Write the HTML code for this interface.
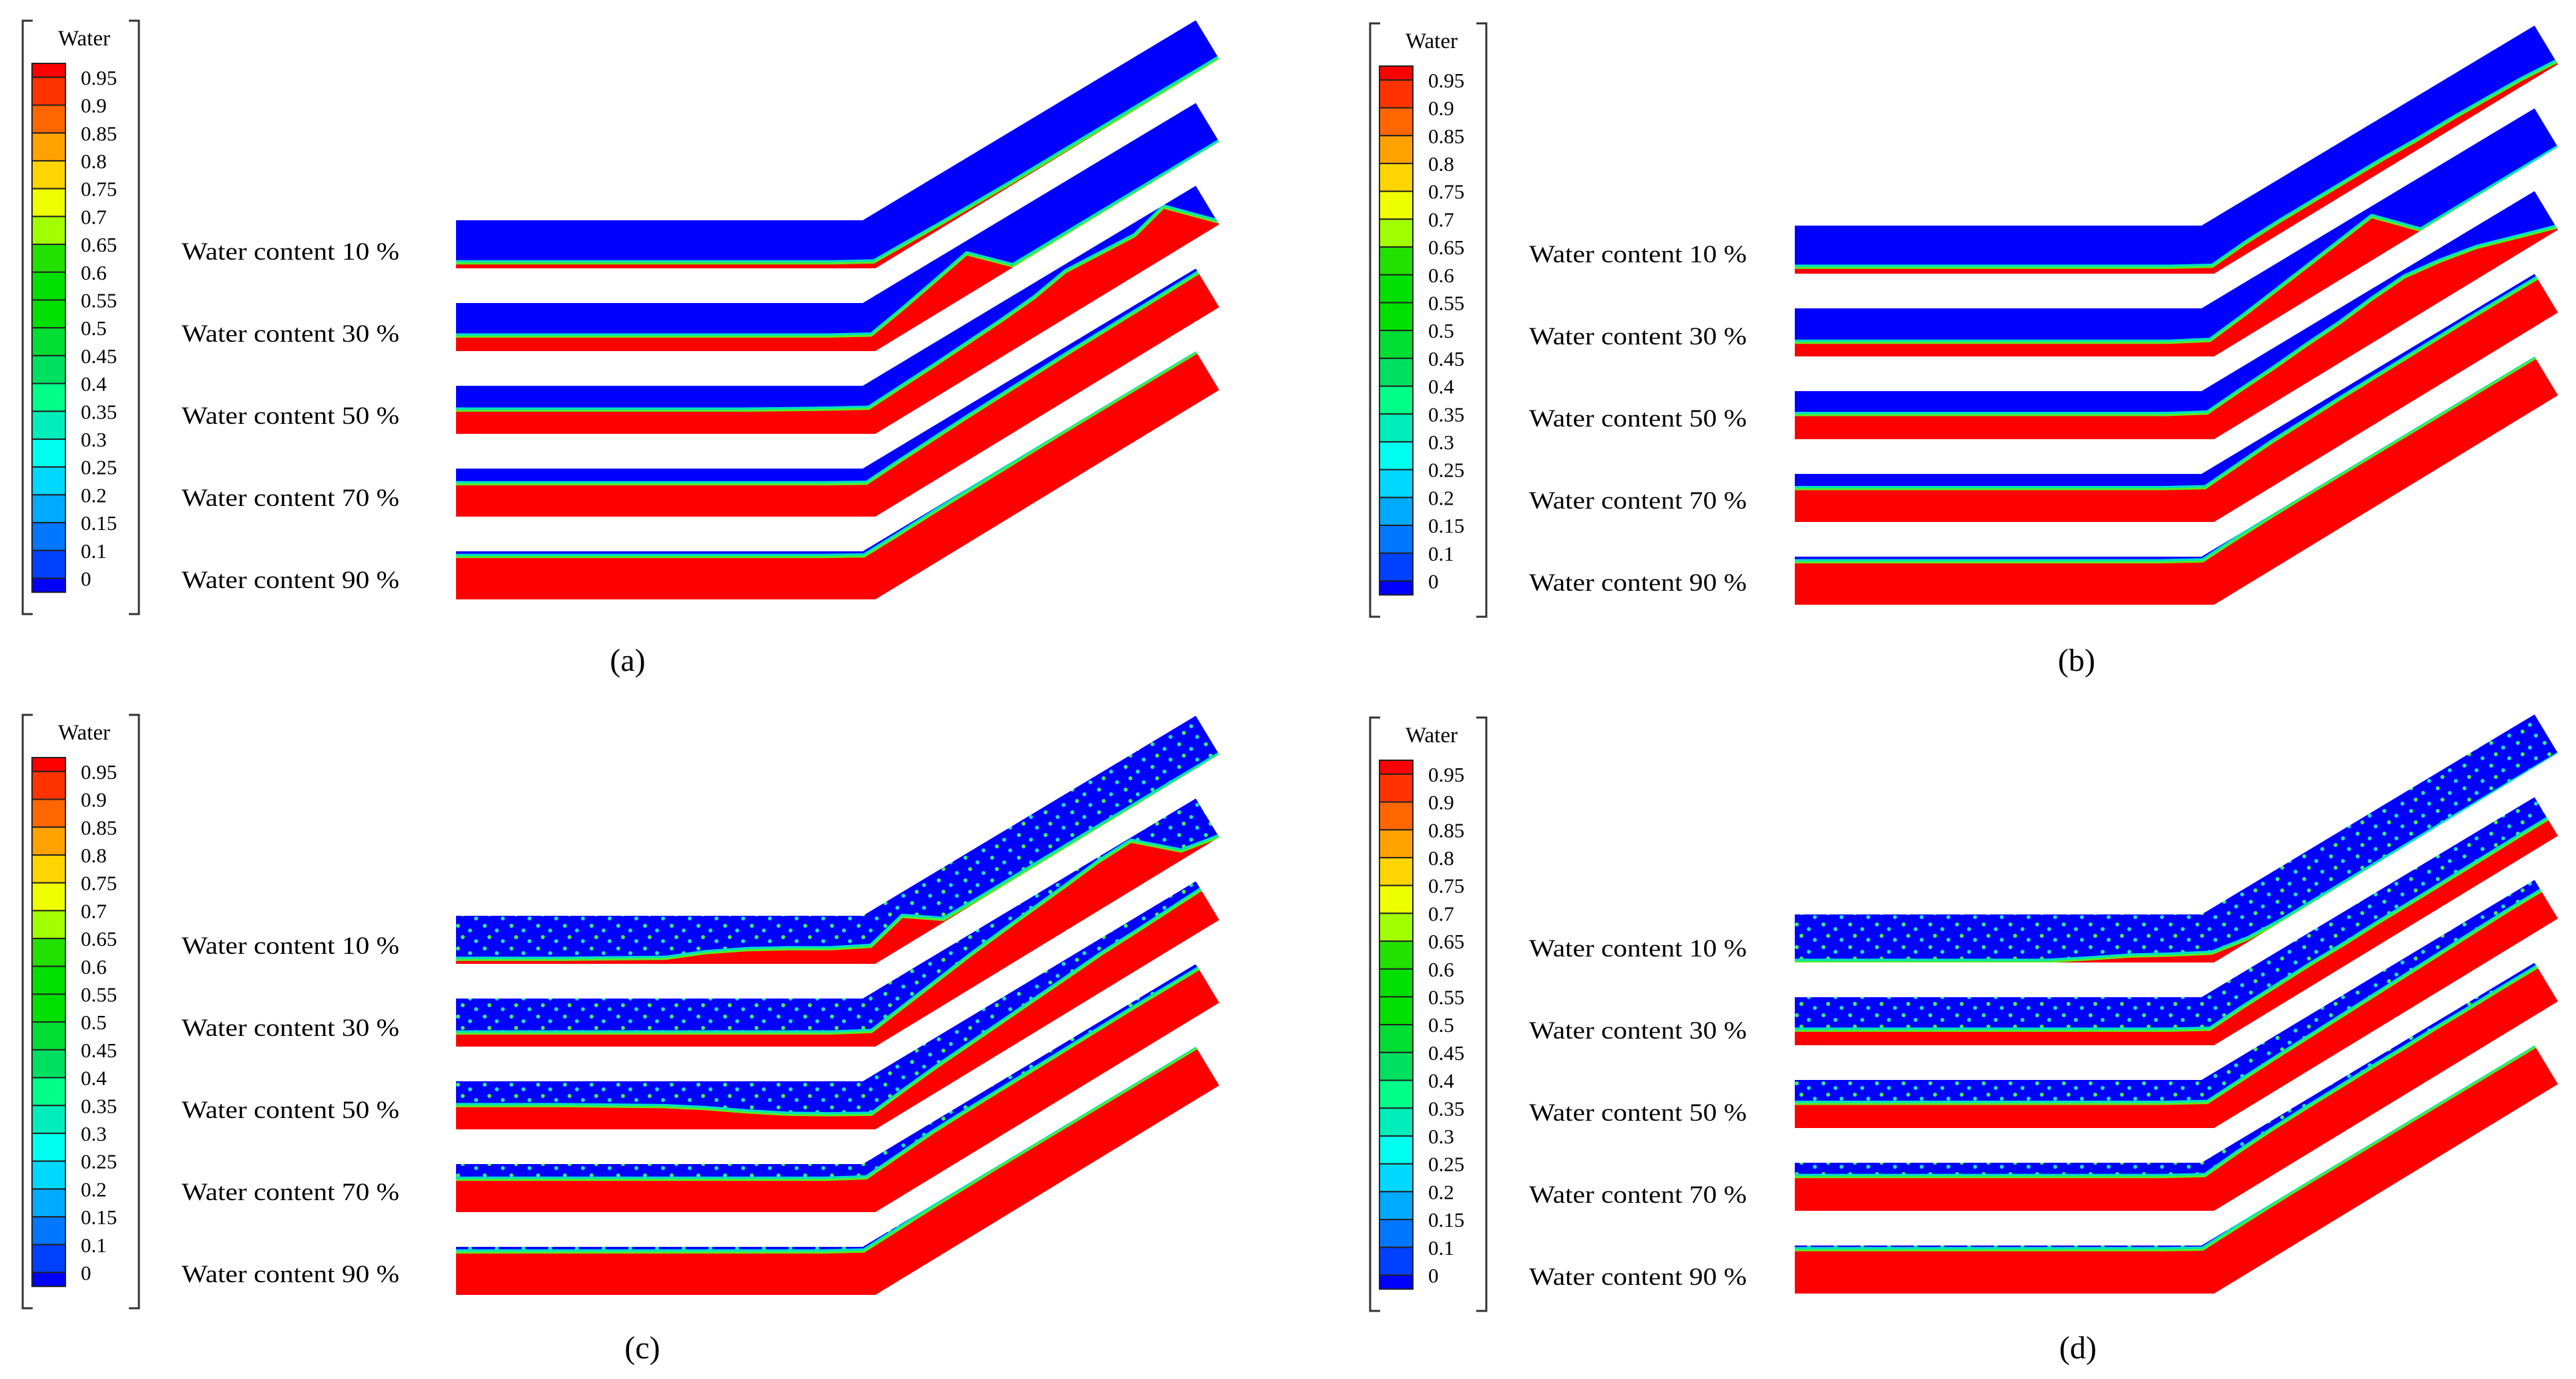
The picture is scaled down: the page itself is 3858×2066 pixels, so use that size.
<!DOCTYPE html>
<html><head><meta charset="utf-8"><title>Water content contours</title>
<style>
html,body{margin:0;padding:0;background:#fff;}
svg{display:block;}
text{font-family:"Liberation Serif","DejaVu Serif",serif;fill:#000;}
</style></head>
<body>
<svg id="fig" xmlns="http://www.w3.org/2000/svg" width="3858" height="2066" viewBox="0 0 3858 2066">
<defs>
<pattern id="drops" x="0" y="0" width="40" height="34" patternUnits="userSpaceOnUse">
<rect width="40" height="34" fill="#0000ff"/>
<circle cx="6" cy="5" r="3" fill="#33ee88"/>
<circle cx="24" cy="12" r="3" fill="#22ddcc"/>
<circle cx="13" cy="22" r="3" fill="#44ee55"/>
<circle cx="33" cy="28" r="3" fill="#22ddcc"/>
</pattern>
</defs>
<g id="root"></g>
</svg>
<script>
// Shared axial stations (0-1 horizontal section, 1-2 inclined section)
const stations = [0,.25,.5,.6,.7,.8,.9,1,1.1,1.2,1.3,1.4,1.5,1.6,1.7,1.8,1.9,2];
const contentLabels = ["Water content 10 %","Water content 30 %","Water content 50 %","Water content 70 %","Water content 90 %"];
const panelLetters = ["(a)","(b)","(c)","(d)"];
const cbarLabels = ["0.95","0.9","0.85","0.8","0.75","0.7","0.65","0.6","0.55","0.5","0.45","0.4","0.35","0.3","0.25","0.2","0.15","0.1","0"];
const cbarColors = ["#ff0000","#ff3300","#ff6600","#ffa200","#ffd500","#eeff00","#a2ff00","#22e000","#00e000","#00e000","#00dd33","#00e060","#00ff88","#00eebb","#00ffee","#00d8ff","#00aaff","#0077ff","#0040ff","#0000ff"];
// Water fraction profiles (fraction of pipe depth filled by water), per panel, per pipe
const profA10 = [.1,.1,.1,.1,.1,.1,.1,.12,.1,.08,.07,.06,.06,.06,.06,.06,.06,.06];
const profA30 = [.3,.3,.3,.3,.3,.3,.3,.32,.45,.6,.75,.04,.04,.04,.04,.04,.04,.04];
const profA50 = [.48,.48,.48,.48,.48,.49,.5,.52,.55,.58,.62,.66,.72,.85,.8,.75,.95,.1];
const profA70 = [.67,.67,.67,.67,.67,.67,.67,.68,.72,.75,.78,.8,.82,.84,.85,.86,.87,.88];
const profA90 = [.88,.88,.88,.88,.88,.88,.88,.89,.9,.92,.93,.94,.95,.96,.96,.96,.96,.96];
const profB10 = [.12,.12,.12,.12,.12,.12,.12,.14,.2,.22,.22,.22,.22,.2,.2,.18,.16,.1];
const profB30 = [.28,.28,.28,.28,.28,.28,.28,.32,.4,.5,.6,.7,.8,.03,.03,.03,.03,.03];
const profB50 = [.5,.5,.5,.5,.5,.5,.5,.53,.58,.62,.68,.72,.8,.85,.75,.6,.35,.1];
const profB70 = [.68,.68,.68,.68,.68,.68,.68,.7,.75,.8,.82,.84,.85,.86,.87,.88,.88,.88];
const profB90 = [.88,.88,.88,.88,.88,.88,.88,.9,.93,.95,.96,.96,.96,.96,.96,.96,.96,.96];
const profC10 = [.08,.08,.1,.22,.28,.3,.3,.35,.55,.05,.04,.04,.04,.04,.04,.04,.04,.04];
const profC30 = [.27,.27,.27,.27,.27,.27,.27,.3,.4,.5,.6,.68,.75,.82,.9,.92,.2,.05];
const profC50 = [.48,.48,.46,.42,.35,.3,.29,.3,.38,.45,.5,.55,.6,.65,.7,.72,.75,.78];
const profC70 = [.67,.67,.67,.67,.67,.67,.67,.7,.75,.8,.82,.83,.84,.85,.86,.87,.87,.87];
const profC90 = [.88,.88,.88,.88,.88,.88,.88,.9,.92,.94,.95,.96,.96,.96,.96,.96,.96,.96];
const profD10 = [.01,.01,.01,.01,.06,.12,.14,.18,.05,.01,.01,.01,.01,.01,.01,.01,.01,.01];
const profD30 = [.3,.3,.3,.3,.3,.3,.3,.32,.36,.38,.4,.4,.42,.42,.43,.44,.45,.45];
const profD50 = [.5,.5,.5,.5,.5,.5,.5,.52,.55,.58,.6,.62,.64,.66,.68,.7,.72,.72];
const profD70 = [.7,.7,.7,.7,.7,.7,.7,.72,.78,.82,.84,.85,.86,.86,.87,.87,.88,.88];
const profD90 = [.9,.9,.9,.9,.9,.9,.9,.91,.93,.95,.96,.96,.96,.96,.96,.96,.96,.96];

const NS = "http://www.w3.org/2000/svg";
const root = document.getElementById("root");
function mk(tag, attrs, parent){ const e=document.createElementNS(NS,tag); for(const k in attrs) e.setAttribute(k,attrs[k]); (parent||root).appendChild(e); return e; }

const panels = [
  {px:0, py:0, cx:0, cy:0, lx:940, ly:1005, profs:[profA10,profA30,profA50,profA70,profA90], drops:null},
  {px:2005, py:8, cx:2018, cy:4, lx:3110, ly:1005, profs:[profB10,profB30,profB50,profB70,profB90], drops:null},
  {px:0, py:1042, cx:0, cy:1040, lx:962, ly:2035, profs:[profC10,profC30,profC50,profC70,profC90], drops:"url(#drops)"},
  {px:2005, py:1040, cx:2018, cy:1044, lx:3112, ly:2035, profs:[profD10,profD30,profD50,profD70,profD90], drops:"url(#drops)"}
];

const ANG = 31*Math.PI/180;
const H=72, LH=609, LI=582, LIB=LI+21, BX=628, d=[Math.cos(ANG), -Math.sin(ANG)];
function pt(x0,y0,t,f){
  let bx,by,tx,ty;
  if(t<=1){ bx=x0+t*BX; by=y0+H; tx=x0+t*LH; ty=y0; }
  else { const u=t-1; bx=x0+BX+u*LIB*d[0]; by=y0+H+u*LIB*d[1]; tx=x0+LH+u*LI*d[0]; ty=y0+u*LI*d[1]; }
  return [bx+(tx-bx)*f, by+(ty-by)*f];
}
const P = a=>a.map(p=>p[0].toFixed(1)+","+p[1].toFixed(1)).join(" ");

panels.forEach((pn,pi)=>{
  const g = mk("g",{transform:`translate(${pn.cx},${pn.cy})`});
  
  
  const br = mk("path",{d:"M49,31 H34 V920 H49 M193,31 H208 V920 H193",fill:"none",stroke:"#333",'stroke-width':3},g);
  
  
  const tt = mk("text",{x:126,y:68,'font-size':33,'text-anchor':'middle'},g); tt.textContent="Water";
  
  
  const top=95, unit=41.7;
  let y=top;
  cbarColors.forEach((c,i)=>{
    const h = (i===0||i===cbarColors.length-1)? unit/2 : unit;
    const r = mk("rect",{x:48,y:y,width:50,height:h,fill:c,stroke:"#222",'stroke-width':2},g);
    
    
    y+=h;
  });
  cbarLabels.forEach((l,i)=>{
    const t = mk("text",{x:121,y:top+unit/2+i*unit+11,'font-size':31},g); t.textContent=l;
    
    
  });
  contentLabels.forEach((l,i)=>{
    const t = mk("text",{x:272,y:389+i*123,'font-size':37,textLength:326,lengthAdjust:'spacingAndGlyphs'},g); t.textContent=l;
    
    
  });
  const pg = mk("g",{transform:`translate(${pn.px},${pn.py})`});
  
  
  pn.profs.forEach((prof,i)=>{
    const x0=683, y0=330+124*i;
    const te=[x0+LH+LI*d[0], y0+LI*d[1]];
    const outline=[[x0,y0],[x0+LH,y0],te,[te[0]+35,te[1]+58],[x0+BX,y0+H],[x0,y0+H]];
    const cid=`clip${pi}_${i}`;
    const cp=mk("clipPath",{id:cid},pg); mk("polygon",{points:P(outline)},cp);
    const pipe=mk("g",{'clip-path':`url(#${cid})`},pg);
    
    
    const bg=mk("polygon",{points:P(outline),fill:pn.drops||"#0000ff"},pipe);
    
    
    const iface = stations.map((t,k)=>pt(x0,y0,t,prof[k]));
    const bottom = stations.map(t=>pt(x0,y0,t,0)).reverse();
    const w=mk("polygon",{points:P(iface.concat([[iface[iface.length-1][0]+40,iface[iface.length-1][1]+40]],bottom,[[x0-20,y0+H+10]])),fill:"#ff0000"},pipe);
    
    
    const ln1=mk("polyline",{points:P(iface),fill:"none",stroke:"#00e0c0",'stroke-width':6,'stroke-linejoin':'round',transform:'translate(0,-2)'},pipe);
    
    
    const ln=mk("polyline",{points:P(iface),fill:"none",stroke:"#55ee22",'stroke-width':3,'stroke-linejoin':'round'},pipe);
    
    
  });
  const lt=mk("text",{x:pn.lx,y:pn.ly,'font-size':48,'text-anchor':'middle'}); lt.textContent=panelLetters[pi];
  
  
});
</script>
</body></html>
